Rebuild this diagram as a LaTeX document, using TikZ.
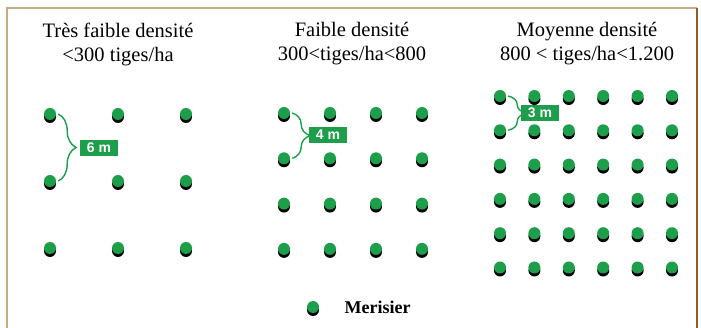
\documentclass[tikz,border=0pt]{standalone}
\usepackage{fontspec}
\setmainfont{Liberation Serif}
\setsansfont{Liberation Sans}
\usetikzlibrary{shadows, decorations.pathreplacing, positioning}
\definecolor{treegreen}{RGB}{28,158,74}
\definecolor{frametan}{RGB}{196,172,132}
\definecolor{framebrown}{RGB}{140,96,40}

\begin{document}
\begin{tikzpicture}[x=1pt,y=-1pt]
	\tikzstyle{tree} = [circle, fill=treegreen, minimum size=12pt, inner sep=0pt,
		drop shadow={shadow xshift=0pt, shadow yshift=-3pt, fill=black, opacity=1}]
	\tikzstyle{gap} = [decorate, decoration={brace, amplitude=18pt}, draw=treegreen, line width=1.4pt]
	\tikzstyle{dist} = [fill=treegreen, text=white, font=\sffamily\bfseries\fontsize{14}{14}\selectfont, inner sep=0pt, minimum width=38pt, minimum height=16pt]
	\tikzstyle{title} = [align=center, font=\fontsize{20.5}{24}\selectfont]
	\useasboundingbox (0,0) rectangle (701,328);
	% frame
	\draw[frametan, line width=2pt] (7,334) -- (7,8) -- (697,8);
	\draw[framebrown, line width=2pt] (697,8) -- (697,334);
	% titles
	\node[title] (t1) at (118,44) {Très faible densité\\<300 tiges/ha};
	\node[title] (t2) at (352,44) {Faible densité\\300<tiges/ha<800};
	\node[title] (t3) at (587,44) {Moyenne densité\\800 < tiges/ha<1.200};
	% very low density, 6 m
	\foreach \i in {1,...,3}
		\foreach \j in {1,...,3}
			\node[tree] (a-\i-\j) at ({50+68*(\i-1)},{114+67*(\j-1)}) {};
	\draw[gap] ([xshift=2pt]a-1-1.east) -- ([xshift=2pt]a-1-2.east);
	\node[dist] (d1) at (99,148) {6 m};
	% low density, 4 m
	\foreach \i in {1,...,4}
		\foreach \j in {1,...,4}
			\node[tree] (b-\i-\j) at ({284+46*(\i-1)},{113+45.3*(\j-1)}) {};
	\draw[gap] ([xshift=2pt]b-1-1.east) -- ([xshift=2pt]b-1-2.east);
	\node[dist] (d2) at (328,135) {4 m};
	% medium density, 3 m
	\foreach \i in {1,...,6}
		\foreach \j in {1,...,6}
			\node[tree] (c-\i-\j) at ({500+34.4*(\i-1)},{96+34.3*(\j-1)}) {};
	\draw[gap] ([xshift=2pt]c-1-1.east) -- ([xshift=2pt]c-1-2.east);
	\node[dist] (d3) at (540,113) {3 m};
	% legend
	\node[tree] (key) at (313,307) {};
	\node[right=22pt of key, font=\bfseries\fontsize{18}{18}\selectfont] (keytext) {Merisier};
\end{tikzpicture}
\end{document}
